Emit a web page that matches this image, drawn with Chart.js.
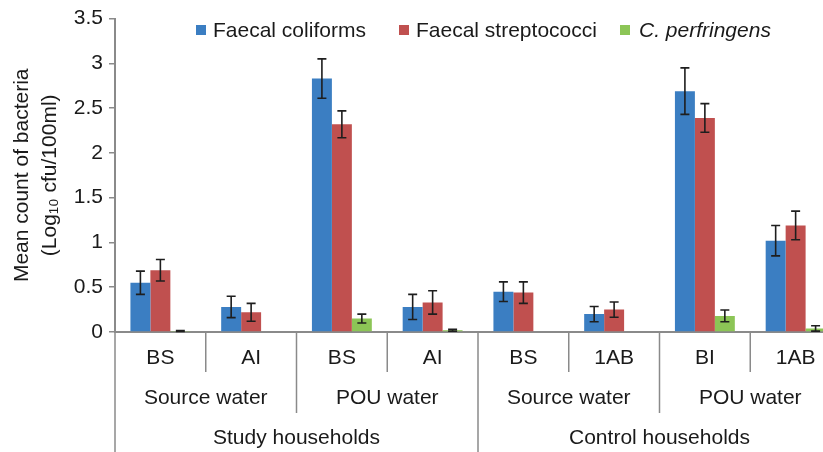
<!DOCTYPE html>
<html>
<head>
<meta charset="utf-8">
<script src="https://cdn.jsdelivr.net/npm/chart.js@4.4.1/dist/chart.umd.min.js"></script>
<style>
  html, body { margin: 0; padding: 0; background: #fff; overflow: hidden; }
  #wrap { width: 823px; height: 452px; overflow: hidden; }
  canvas { display: block; }
</style>
</head>
<body>
<div id="wrap"><canvas id="c" width="841" height="452"></canvas></div>
<script>
// ---- Data ----
const subLabels = ['BS', 'AI', 'BS', 'AI', 'BS', '1AB', 'BI', '1AB'];
const waterGroups = ['Source water', 'POU water', 'Source water', 'POU water'];
const households = ['Study households', 'Control households'];

const seriesNames = ['Faecal coliforms', 'Faecal streptococci', 'C. perfringens'];
const faecalColiforms = [0.55, 0.28, 2.83, 0.28, 0.45, 0.20, 2.69, 1.02];
const faecalStrep     = [0.69, 0.22, 2.32, 0.33, 0.44, 0.25, 2.39, 1.19];
const cPerfringens    = [0.01, 0.00, 0.15, 0.02, 0.00, 0.00, 0.18, 0.04];

const errColiforms = [0.13, 0.12, 0.22, 0.14, 0.11, 0.085, 0.26, 0.17];
const errStrep     = [0.12, 0.10, 0.15, 0.13, 0.12, 0.085, 0.16, 0.16];
const errPerf      = [0.005, 0.00, 0.05, 0.01, 0.00, 0.00, 0.065, 0.03];

const yTicks = [0, 0.5, 1, 1.5, 2, 2.5, 3, 3.5];
const yTickLabels = ['0', '0.5', '1', '1.5', '2', '2.5', '3', '3.5'];

const colors = ['#3b7ec2', '#c0504f', '#8cc556'];
const axisColor = '#8a8a8a';
const FONT = '"Liberation Sans", Arial, sans-serif';
const FS = 21;

// ---- Plugins ----
const errorBarPlugin = {
  id: 'errorBars',
  afterDatasetsDraw(chart) {
    const ctx = chart.ctx;
    const y = chart.scales.y;
    const errs = [errColiforms, errStrep, errPerf];
    ctx.save();
    ctx.strokeStyle = '#1e1e1e';
    ctx.lineWidth = 1.6;
    chart.data.datasets.forEach((ds, di) => {
      const meta = chart.getDatasetMeta(di);
      meta.data.forEach((bar, i) => {
        const e = errs[di][i];
        if (!e) return;
        const v = ds.data[i];
        const x = bar.x;
        const yt = y.getPixelForValue(v + e);
        const yb = y.getPixelForValue(Math.max(0, v - e));
        ctx.beginPath();
        ctx.moveTo(x, yt); ctx.lineTo(x, yb);
        ctx.moveTo(x - 4.5, yt); ctx.lineTo(x + 4.5, yt);
        ctx.moveTo(x - 4.5, yb); ctx.lineTo(x + 4.5, yb);
        ctx.stroke();
      });
    });
    ctx.restore();
  }
};

const groupAxisPlugin = {
  id: 'groupAxis',
  afterDraw(chart) {
    const ctx = chart.ctx;
    const xs = chart.scales.x;
    const area = chart.chartArea;
    const half = (xs.getPixelForValue(1) - xs.getPixelForValue(0)) / 2;
    const bottom = area.bottom;
    ctx.save();
    ctx.strokeStyle = axisColor;
    ctx.lineWidth = 1.5;
    const left = xs.getPixelForValue(0) - half;
    ctx.beginPath();
    ctx.moveTo(left, bottom); ctx.lineTo(left, chart.height);
    ctx.stroke();
    for (let i = 1; i < subLabels.length; i++) {
      const bx = xs.getPixelForValue(i) - half;
      let len = 40;
      if (i % 2 === 0) len = 81;
      if (i % 4 === 0) len = chart.height - bottom;
      ctx.beginPath();
      ctx.moveTo(bx, bottom); ctx.lineTo(bx, bottom + len);
      ctx.stroke();
    }
    ctx.fillStyle = '#1a1a1a';
    ctx.font = FS + 'px ' + FONT;
    ctx.textAlign = 'center';
    ctx.textBaseline = 'middle';
    waterGroups.forEach((lab, g) => {
      const cx = (xs.getPixelForValue(g * 2) + xs.getPixelForValue(g * 2 + 1)) / 2;
      ctx.fillText(lab, cx, bottom + 66);
    });
    households.forEach((lab, g) => {
      const cx = (xs.getPixelForValue(g * 4) + xs.getPixelForValue(g * 4 + 3)) / 2;
      ctx.fillText(lab, cx, bottom + 106);
    });
    ctx.restore();
  }
};

const legendPlugin = {
  id: 'customLegend',
  afterDraw(chart) {
    const ctx = chart.ctx;
    const squareX = [196, 399, 620];
    const textX = [213, 416, 639];
    const cy = 30;
    ctx.save();
    ctx.textBaseline = 'middle';
    ctx.textAlign = 'left';
    chart.data.datasets.forEach((ds, i) => {
      ctx.fillStyle = ds.backgroundColor;
      ctx.fillRect(squareX[i], cy - 5, 10, 10);
      ctx.fillStyle = '#1a1a1a';
      ctx.font = (i === 2 ? 'italic ' : '') + FS + 'px ' + FONT;
      ctx.fillText(ds.label, textX[i], cy + 1);
    });
    ctx.restore();
  }
};

new Chart(document.getElementById('c'), {
  type: 'bar',
  data: {
    labels: subLabels,
    datasets: [
      { label: seriesNames[0], data: faecalColiforms, backgroundColor: colors[0] },
      { label: seriesNames[1], data: faecalStrep, backgroundColor: colors[1] },
      { label: seriesNames[2], data: cPerfringens, backgroundColor: colors[2] }
    ]
  },
  options: {
    responsive: false,
    animation: false,
    devicePixelRatio: 1,
    layout: { padding: { top: 17, right: 0, bottom: 0, left: 0 } },
    datasets: { bar: { categoryPercentage: 0.66, barPercentage: 1.0 } },
    plugins: { legend: { display: false }, tooltip: { enabled: false } },
    scales: {
      x: {
        offset: true,
        grid: { display: false, drawTicks: false },
        border: { display: true, color: axisColor, width: 2 },
        ticks: { color: '#1a1a1a', font: { size: FS, family: FONT }, padding: 14, maxRotation: 0, autoSkip: false },
        afterFit(s) { s.height = 120; }
      },
      y: {
        min: 0, max: 3.5,
        afterBuildTicks(s) { s.ticks = yTicks.map(v => ({ value: v })); },
        grid: { drawOnChartArea: false, drawTicks: true, tickLength: 6, color: axisColor, lineWidth: 1.5 },
        border: { display: true, color: axisColor, width: 2 },
        ticks: {
          color: '#1a1a1a', font: { size: FS, family: FONT }, padding: 6,
          callback: (v, i) => yTickLabels[i]
        },
        title: {
          display: true,
          text: ['Mean count of bacteria', '(Log\u2081\u2080 cfu/100ml)'],
          color: '#1a1a1a',
          font: { size: FS, family: FONT, lineHeight: 1.35 },
          padding: { top: 8, bottom: 0 }
        },
        afterFit(s) { s.width = 115; }
      }
    }
  },
  plugins: [errorBarPlugin, groupAxisPlugin, legendPlugin]
});
</script>
</body>
</html>
